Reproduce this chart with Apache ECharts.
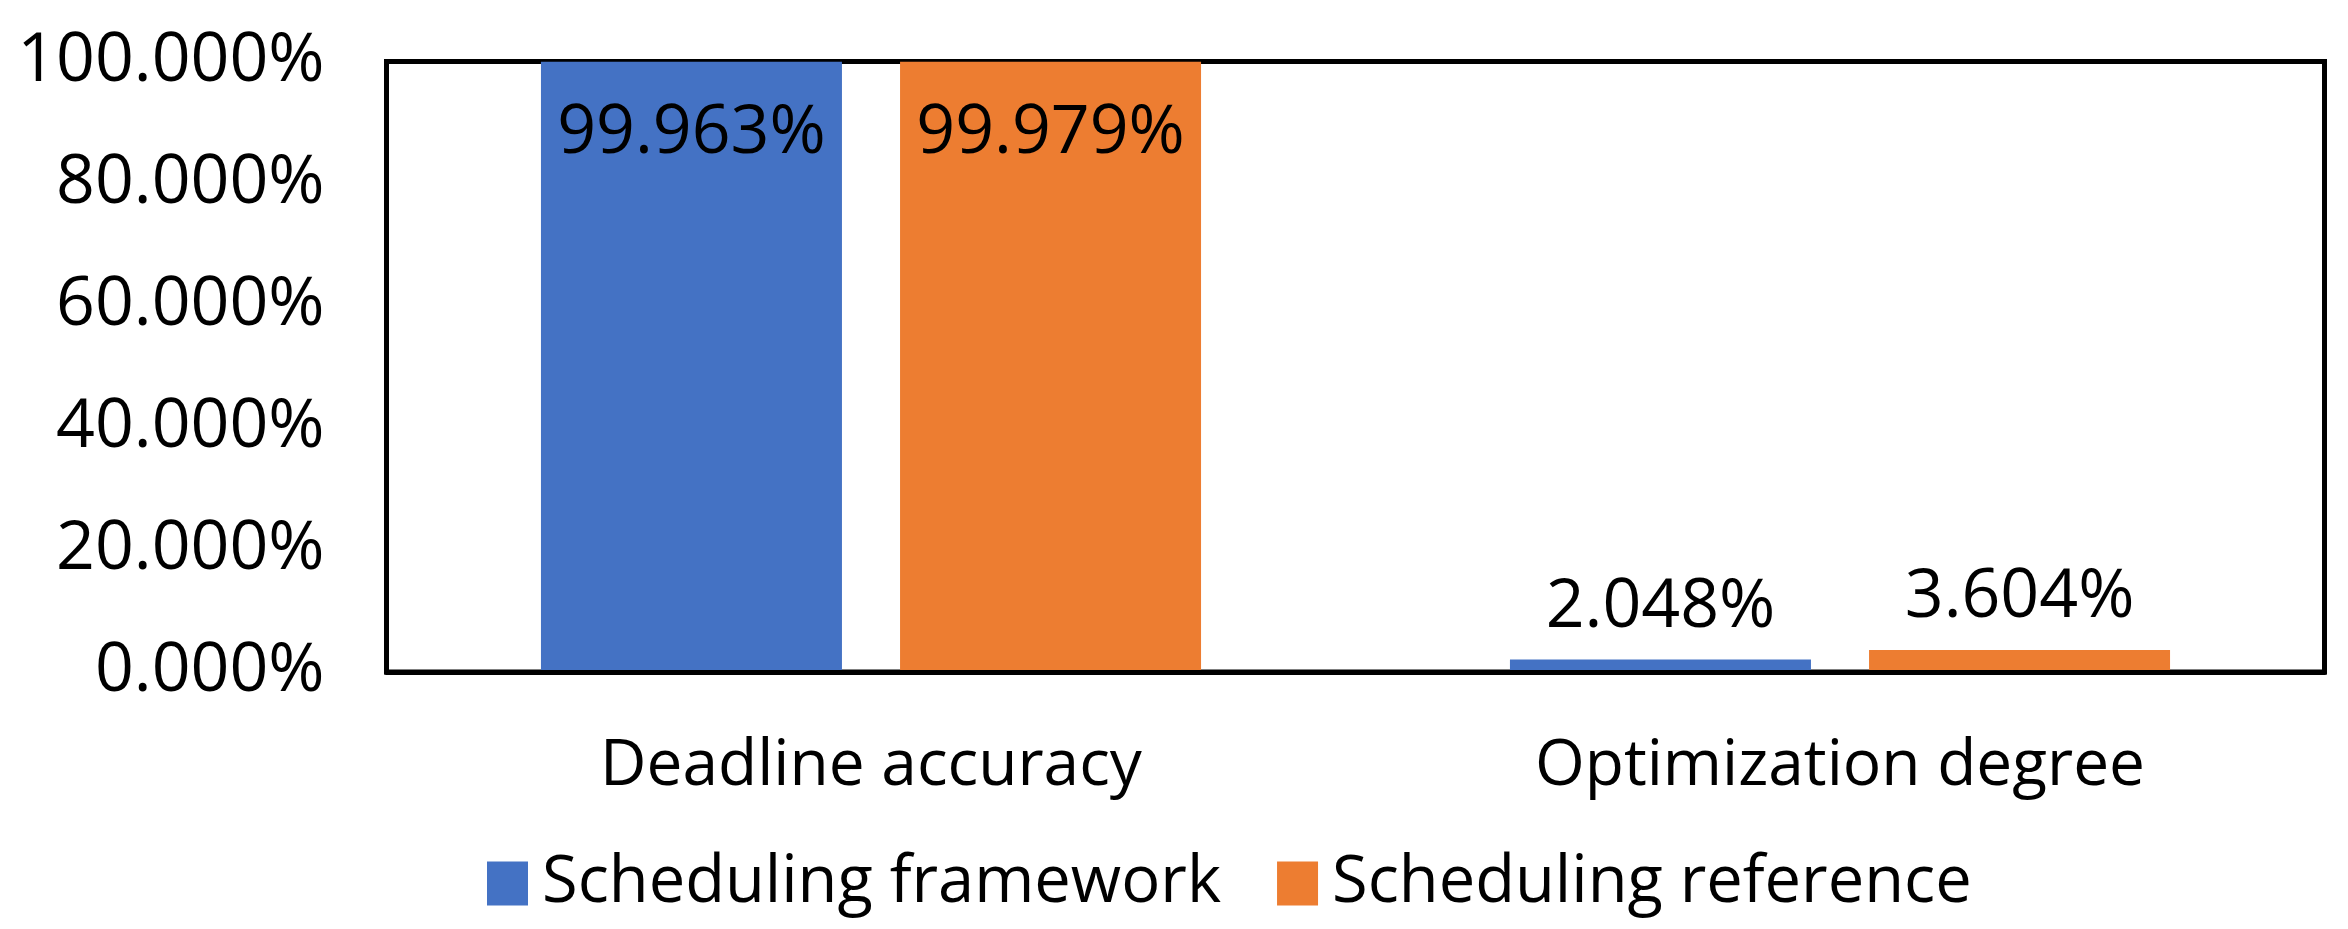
<!DOCTYPE html>
<html>
<head>
<meta charset="utf-8">
<script src="https://cdn.jsdelivr.net/npm/echarts@6/dist/echarts.min.js"></script>
<style>
html,body{margin:0;padding:0;background:#fff;}
#chart{width:2348px;height:929px;}
</style>
</head>
<body>
<div id="chart"></div>
<script>
var categories = ['Deadline accuracy', 'Optimization degree'];
var seriesNames = ['Scheduling framework', 'Scheduling reference'];
var frameworkValues = [99.963, 2.048];
var referenceValues = [99.979, 3.604];
var yTicks = [0, 20, 40, 60, 80, 100];

var FONT = '"Open Sans", "Noto Sans", sans-serif';
var NUM_SIZE = 68;
var TXT_SIZE = 64;
var LEG_SIZE = 65;

function pct(v) { return v.toFixed(3) + '%'; }

function makeData(values) {
  return values.map(function (v) {
    var big = v > 50;
    return {
      value: v,
      label: big ? { position: 'insideTop', distance: 38 } : { position: 'top', distance: 18 }
    };
  });
}

var chart = echarts.init(document.getElementById('chart'), null, { renderer: 'canvas' });
chart.setOption({
  backgroundColor: '#ffffff',
  animation: false,
  textStyle: { fontFamily: FONT },
  grid: {
    left: 386.5, right: 23.5, top: 61.5, bottom: 257,
    show: true, borderColor: '#000', borderWidth: 5, backgroundColor: 'transparent'
  },
  legend: {
    data: seriesNames,
    left: 482, top: 846,
    itemWidth: 41, itemHeight: 44, itemGap: 56,
    icon: 'rect',
    textStyle: { fontFamily: FONT, fontSize: LEG_SIZE, color: '#000', padding: [0, 0, 0, 9] }
  },
  xAxis: {
    type: 'category',
    data: categories,
    z: 5,
    axisLine: { show: true, lineStyle: { color: '#000', width: 5 } },
    axisTick: { show: false },
    axisLabel: { fontFamily: FONT, fontSize: TXT_SIZE, color: '#000', margin: 63 }
  },
  yAxis: {
    type: 'value',
    min: yTicks[0], max: yTicks[yTicks.length - 1], interval: yTicks[1] - yTicks[0],
    axisLine: { show: false },
    axisTick: { show: false },
    splitLine: { show: false },
    axisLabel: {
      fontFamily: FONT, fontSize: NUM_SIZE, color: '#000', margin: 62,
      formatter: function (v) { return pct(v); }
    }
  },
  series: [
    {
      name: seriesNames[0], type: 'bar', data: makeData(frameworkValues),
      barWidth: 301, barGap: '19.3%',
      itemStyle: { color: '#4472C4' },
      label: { show: true, fontFamily: FONT, fontSize: NUM_SIZE, color: '#000', formatter: function (p) { return pct(p.value); } }
    },
    {
      name: seriesNames[1], type: 'bar', data: makeData(referenceValues),
      barWidth: 301, barGap: '19.3%',
      itemStyle: { color: '#ED7D31' },
      label: { show: true, fontFamily: FONT, fontSize: NUM_SIZE, color: '#000', formatter: function (p) { return pct(p.value); } }
    }
  ]
});
</script>
</body>
</html>
